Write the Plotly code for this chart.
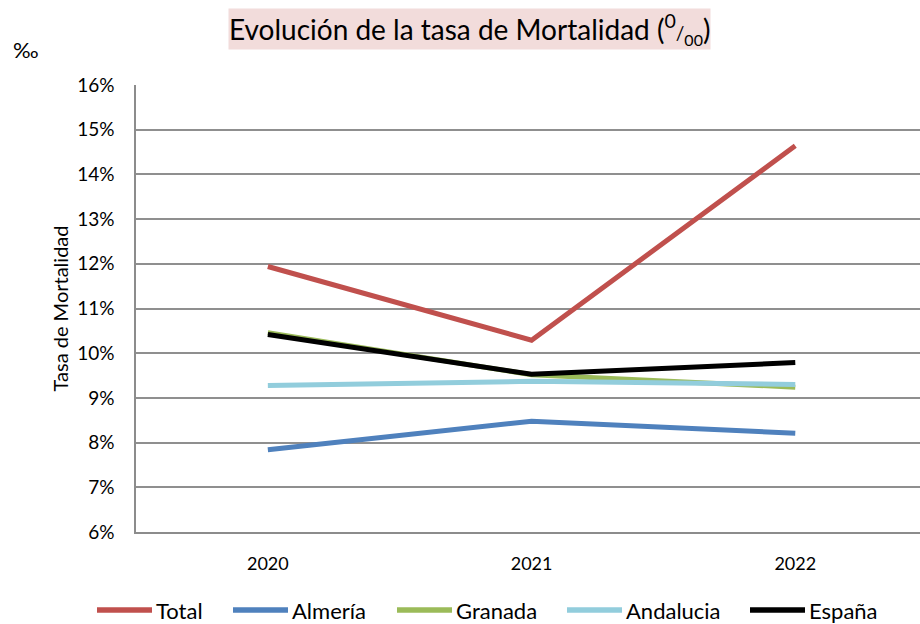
import plotly.graph_objects as go

# Mortality rate (per thousand) by area and year
years = ["2020", "2021", "2022"]
total = [11.94, 10.29, 14.64]
almeria = [7.84, 8.48, 8.21]
granada = [10.46, 9.52, 9.24]
andalucia = [9.28, 9.37, 9.30]
espana = [10.42, 9.53, 9.79]

y_ticks = [6, 7, 8, 9, 10, 11, 12, 13, 14, 15, 16]
y_tick_labels = [f"{v}%" for v in y_ticks]

series_names = ["Total", "Almería", "Granada", "Andalucia", "España"]
series_values = [total, almeria, granada, andalucia, espana]
series_colors = ["#C0504D", "#4F81BD", "#9BBB59", "#92CDDC", "#000000"]

FONT = "Lato"
W, H = 920, 624
PLOT_L, PLOT_R, PLOT_T, PLOT_B = 136, 920, 85, 532


def paper_x(px):
    return (px - PLOT_L) / (PLOT_R - PLOT_L)


def paper_y(py):
    return (PLOT_B - py) / (PLOT_B - PLOT_T)


fig = go.Figure()
for name, vals, color in zip(series_names, series_values, series_colors):
    fig.add_trace(go.Scatter(
        x=years, y=vals, name=name, mode="lines",
        line=dict(color=color, width=5),
        showlegend=False,
    ))

fig.update_layout(
    width=W, height=H,
    margin=dict(l=PLOT_L, r=W - PLOT_R, t=PLOT_T, b=H - PLOT_B),
    paper_bgcolor="white", plot_bgcolor="white",
    font=dict(family=FONT, size=18, color="#000000"),
)

fig.update_xaxes(
    type="category", range=[-0.5, 2.473],
    showgrid=False, zeroline=False,
    showline=True, linecolor="#8c8c8c", linewidth=1.5,
    ticks="", ticklabelstandoff=15,
    tickfont=dict(size=18, family=FONT),
)
fig.update_yaxes(
    range=[6, 16], tickvals=y_ticks, ticktext=y_tick_labels,
    showgrid=True, gridcolor="#8f8f8f", gridwidth=1.5,
    zeroline=False,
    showline=True, linecolor="#8c8c8c", linewidth=1.5,
    ticks="", ticklabelstandoff=16,
    tickfont=dict(size=19, family=FONT),
    title=dict(text="Tasa de Mortalidad", font=dict(size=20, family=FONT), standoff=3),
)

# Chart title in a shaded box
fig.add_annotation(
    xref="paper", yref="paper", x=paper_x(469), y=paper_y(28.5),
    xanchor="center", yanchor="middle", showarrow=False,
    text=("Evolución de la tasa de Mortalidad ("
          "<sup>0</sup><span style='font-size:19px'>/</span>"
          "<sub><span style='font-size:16px'>00</span></sub>)"),
    font=dict(size=28, family=FONT, color="#000000"),
    bgcolor="#F2DCDB", borderpad=0,
)

# Unit marker in the corner
fig.add_annotation(
    xref="paper", yref="paper", x=paper_x(11), y=paper_y(50),
    xanchor="left", yanchor="middle", showarrow=False,
    text="‰", font=dict(size=22, family=FONT, color="#000000"),
)

# Legend row: a line sample followed by the series name
legend_starts = [97, 233, 397, 567, 750]
legend_y = 610
sample_len = 55
for name, color, x0 in zip(series_names, series_colors, legend_starts):
    fig.add_shape(
        type="line", xref="paper", yref="paper",
        x0=paper_x(x0), x1=paper_x(x0 + sample_len),
        y0=paper_y(legend_y), y1=paper_y(legend_y),
        line=dict(color=color, width=5.5), layer="above",
    )
    fig.add_annotation(
        xref="paper", yref="paper", x=paper_x(x0 + sample_len + 2), y=paper_y(legend_y),
        xanchor="left", yanchor="middle", showarrow=False,
        text=name, font=dict(size=22, family=FONT, color="#000000"),
    )

fig.write_html("out.html")
